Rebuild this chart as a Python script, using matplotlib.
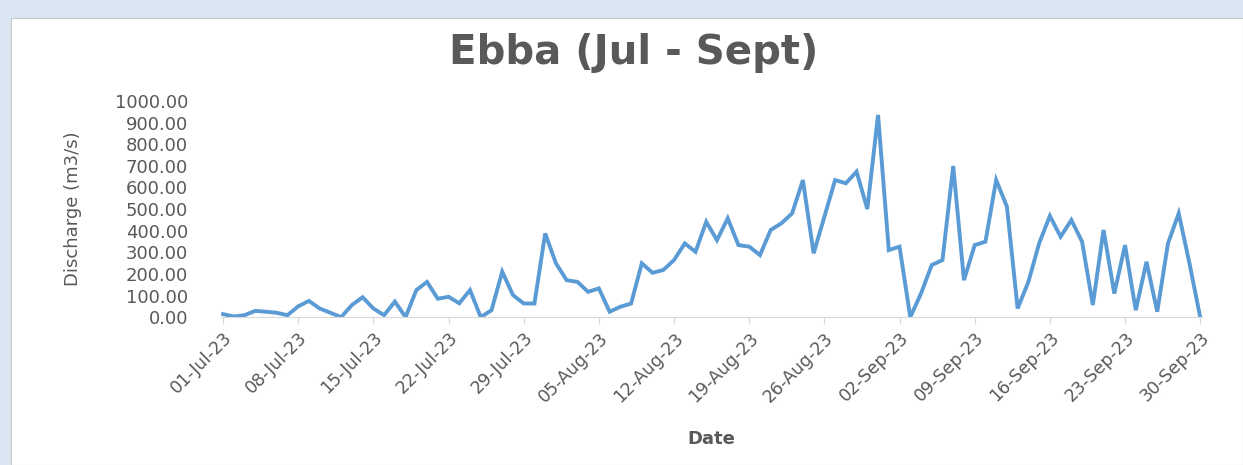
import numpy as np
import pandas as pd
import matplotlib
matplotlib.use("Agg")
import matplotlib.pyplot as plt
import matplotlib.dates as mdates
from matplotlib.patches import Rectangle

# daily discharge, 01-Jul-23 .. 30-Sep-23
start_date = "2023-07-01"
end_date = "2023-09-30"
discharge = [
    14, 3, 9, 29, 25, 20, 9, 50, 75, 40,
    20, 0, 56, 92, 40, 9, 72, 0, 125, 163,
    85, 94, 64, 125, 0, 32, 210, 102, 63, 63,
    387, 249, 171, 163, 117, 133, 25, 48, 63, 249,
    205, 218, 264, 341, 302, 441, 356, 457, 333, 326,
    287, 403, 434, 480, 634, 295, 464, 634, 619, 673,
    500, 935, 310, 326, 0, 109, 241, 264, 699, 171,
    333, 349, 634, 511, 40, 163, 341, 468, 372, 449,
    349, 56, 403, 109, 333, 32, 256, 25, 341, 480,
    249, 0,
]
dates = pd.date_range(start_date, end_date, freq="D")

title_txt = "Ebba (Jul - Sept)"
ylabel_txt = "Discharge (m3/s)"
xlabel_txt = "Date"
grey = "#595959"

fig = plt.figure(figsize=(12.43, 4.65), dpi=100, facecolor="#dce6f2")
# white chart area with the light blue frame round it
fig.patches.append(Rectangle((0.009, 0.0), 0.991, 0.962, transform=fig.transFigure,
                             facecolor="white", edgecolor="#c8c8c8", lw=0.8, zorder=-5))

ax = fig.add_axes([0.178, 0.318, 0.789, 0.465])
ax.set_zorder(2)
ax.set_facecolor("white")

ax.plot(dates, discharge, color="#5b9bd5", lw=2.8, solid_joinstyle="miter")

ax.set_ylim(0, 1000)
ax.set_yticks(np.arange(0, 1001, 100))
ax.yaxis.set_major_formatter(matplotlib.ticker.FormatStrFormatter("%.2f"))
ax.set_xlim(dates[0] - pd.Timedelta(hours=4), dates[-1] + pd.Timedelta(hours=4))
ax.set_xticks(dates[::7])
ax.xaxis.set_major_formatter(mdates.DateFormatter("%d-%b-%y"))

for s in ["top", "right", "left"]:
    ax.spines[s].set_visible(False)
ax.spines["bottom"].set_color("#d9d9d9")
ax.tick_params(axis="y", length=0, labelsize=13, labelcolor=grey, pad=24)
ax.tick_params(axis="x", length=5, color="#d9d9d9", labelsize=12.5, labelcolor=grey)
for lab in ax.get_xticklabels():
    lab.set_rotation(45)
    lab.set_ha("right")
    lab.set_rotation_mode("anchor")

ax.set_ylabel(ylabel_txt, fontsize=13, color=grey)
ax.yaxis.set_label_coords(-0.142, 0.5)
ax.set_xlabel(xlabel_txt, fontsize=13, color=grey, fontweight="bold")
ax.xaxis.set_label_coords(0.5, -0.52)
fig.text(0.51, 0.886, title_txt, ha="center", va="center", fontsize=29,
         fontweight="bold", color=grey)

fig.savefig("out.png", dpi=100, facecolor=fig.get_facecolor())
